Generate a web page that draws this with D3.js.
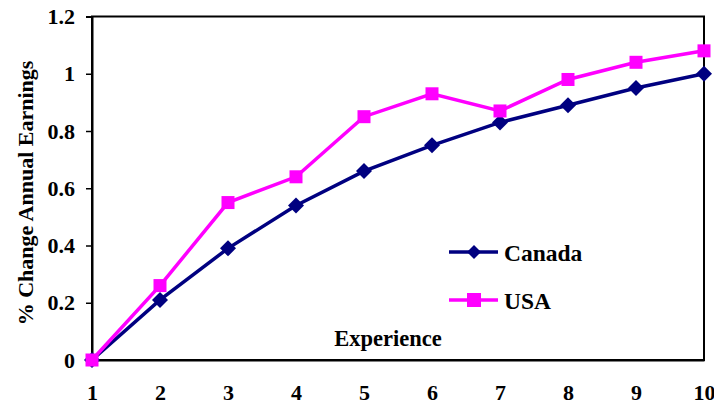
<!DOCTYPE html>
<html><head><meta charset="utf-8">
<script src="https://cdn.jsdelivr.net/npm/d3@7"></script>
<style>body{margin:0;background:#fff}svg{display:block}text{font-family:"Liberation Serif","DejaVu Serif",serif;font-weight:bold;fill:#000}</style>
</head><body>
<svg id="c" width="714" height="407"></svg>
<script>
const experience = [1,2,3,4,5,6,7,8,9,10];
const canada = [0,0.21,0.39,0.54,0.66,0.75,0.83,0.89,0.95,1.0];
const usa = [0,0.26,0.55,0.64,0.85,0.93,0.87,0.98,1.04,1.08];
const yTicks = [0,0.2,0.4,0.6,0.8,1,1.2];
const seriesNames = ["Canada","USA"];
const colors = ["#000080","#FF00FF"];

const svg = d3.select("#c");
const m = {l:92, r:10, t:16.5, b:47};
const W = 714, H = 407;
const x = d3.scaleLinear().domain([1,10]).range([m.l, W-m.r]);
const y = d3.scaleLinear().domain([0,1.2]).range([H-m.b, m.t]);

// frame
svg.append("rect").attr("x",x(1)).attr("y",y(1.2)).attr("width",x(10)-x(1)).attr("height",y(0)-y(1.2))
  .attr("fill","none").attr("stroke","#000").attr("stroke-width",2);

const ya = svg.append("g").attr("transform",`translate(${x(1)},0)`)
  .call(d3.axisLeft(y).tickValues(yTicks).tickSize(6).tickPadding(11).tickFormat(d=>d3.format("")(d)));
ya.select(".domain").attr("stroke-width",2);
ya.selectAll(".tick line").attr("stroke-width",1.5);
ya.selectAll("text").style("font-size","22px");

const xa = svg.append("g").attr("transform",`translate(0,${y(0)})`)
  .call(d3.axisBottom(x).tickValues(experience).tickSize(0).tickPadding(24).tickFormat(d3.format("d")));
xa.select(".domain").attr("stroke-width",2);
xa.selectAll("text").style("font-size","22px");

const line = d3.line().x((d,i)=>x(experience[i])).y(d=>y(d));
const data = [canada, usa];
data.forEach((s,k)=>{
  svg.append("path").datum(s).attr("d",line).attr("fill","none").attr("stroke",colors[k]).attr("stroke-width",3.5);
});
// markers
const sq = 13, dm = 8;
svg.append("g").selectAll("path").data(canada).join("path")
  .attr("d",(d,i)=>`M${x(experience[i])},${y(d)-dm}l${dm},${dm}l${-dm},${dm}l${-dm},${-dm}z`)
  .attr("fill",colors[0]);
svg.append("g").selectAll("rect").data(usa).join("rect")
  .attr("x",(d,i)=>x(experience[i])-sq/2).attr("y",d=>y(d)-sq/2).attr("width",sq).attr("height",sq)
  .attr("fill",colors[1]);

// legend
const lg = [252, 300];
seriesNames.forEach((n,k)=>{
  const ly = lg[k];
  svg.append("line").attr("x1",449).attr("x2",498).attr("y1",ly).attr("y2",ly).attr("stroke",colors[k]).attr("stroke-width",3.5);
  if(k===0) svg.append("path").attr("d",`M474,${ly-7}l7,7l-7,7l-7,-7z`).attr("fill",colors[0]);
  else svg.append("rect").attr("x",467).attr("y",ly-7).attr("width",14).attr("height",14).attr("fill",colors[1]);
  svg.append("text").attr("x",504).attr("y",ly+9).style("font-size","23.5px").text(n);
});

svg.append("text").attr("x",388).attr("y",346).attr("text-anchor","middle").style("font-size","22.5px").text("Experience");
svg.append("text").attr("transform",`translate(33,193) rotate(-90)`).attr("text-anchor","middle")
  .style("font-size","22px").text("% Change Annual Earnings");
</script>
</body></html>
